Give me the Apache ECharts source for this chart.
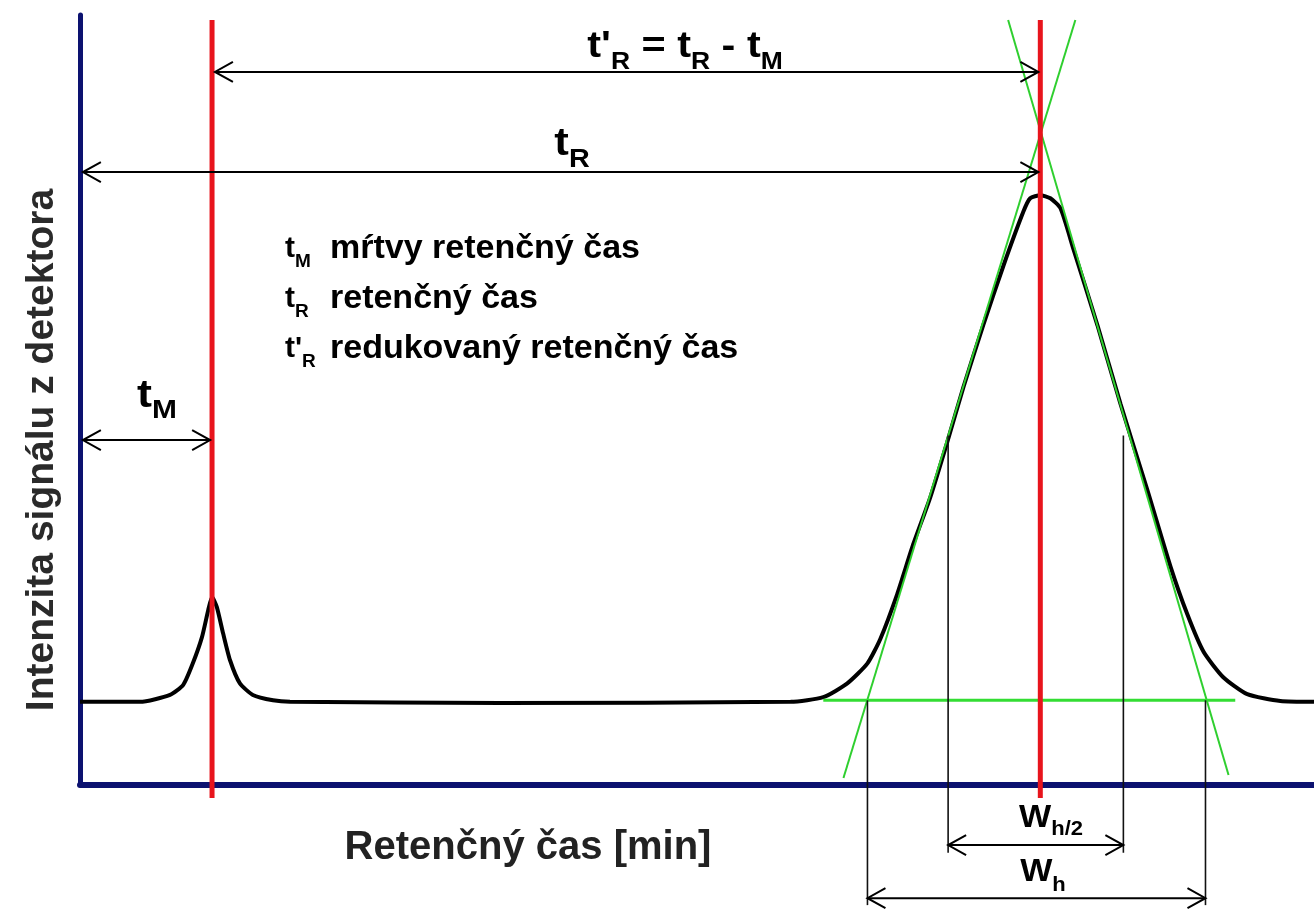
<!DOCTYPE html>
<html><head><meta charset="utf-8">
<script src="https://cdn.jsdelivr.net/npm/echarts/dist/echarts.min.js"></script>
<style>html,body{margin:0;padding:0;background:#fff}#c{width:1314px;height:911px}</style>
</head><body><div id="c"></div>
<script>
// --- data (x: retention time in min, y: detector signal, arbitrary units) ---
const timeMin = [0, 1.25, 1.875, 2.15, 2.35, 2.54, 2.67, 2.75, 2.85, 2.98, 3.125, 3.33, 3.6, 4.02, 4.375, 8.75, 14.8,
  15.48, 15.98, 16.4, 16.67, 17.02, 17.35, 17.71, 18.06, 18.4, 18.81, 19.23, 19.65, 19.79, 20.0, 20.21, 20.42, 20.69,
  21.19, 21.67, 22.23, 22.71, 23.06, 23.4, 23.81, 24.31, 25.0, 25.7];
const signal = [10.8, 10.8, 11.7, 13.0, 15.8, 19.2, 22.7, 24.4, 23.1, 19.7, 16.2, 13.2, 11.7, 11.0, 10.8, 10.65, 10.8,
  11.4, 13.2, 15.8, 19.0, 24.8, 31.2, 37.4, 44.5, 51.7, 59.7, 67.4, 74.5, 76.2, 76.6, 76.2, 74.9, 69.6,
  59.7, 49.5, 38.3, 28.4, 22.2, 17.3, 14.0, 11.8, 10.9, 10.8];
const tM = 2.75;            // dead retention time
const tR = 20.0;            // retention time
const tangentLeft = [[15.9, 0.9], [20.73, 99.35]];
const tangentRight = [[23.92, 1.3], [19.33, 99.35]];
const baseLevel = 11.0;
const baseLineRange = [15.48, 24.06];
const halfLevel = 45.4;
const wHalf = [18.08, 21.73];
const wBase = [16.4, 23.44];
const redLines = [[tM, 99.35, -1.7], [tR, 99.35, -1.7]];
const blackLines = [[wBase[0], baseLevel, -15.6], [wHalf[0], halfLevel, -8.8], [wHalf[1], halfLevel, -8.8], [wBase[1], baseLevel, -15.6]];
const arrows = [[tM + 0.06, tR - 0.04, 92.6], [0.06, tR - 0.04, 79.6], [0.06, tM - 0.04, 44.8],
  [wHalf[0], wHalf[1], -7.8], [wBase[0], wBase[1], -14.7]];
const legendSymbols = ["{m|t}{s|M}", "{m|t}{s|R}", "{m|t'}{s|R}"];
const legendTexts = ["mŕtvy retenčný čas", "retenčný čas", "redukovaný retenčný čas"];

const FF = '"Liberation Sans", Arial, sans-serif';
const curve = timeMin.map((t, i) => [t, signal[i]]);

function vRender(color, width) {
  return function (params, api) {
    const a = api.coord([api.value(0), api.value(1)]);
    const b = api.coord([api.value(0), api.value(2)]);
    return { type: 'line', shape: { x1: a[0], y1: a[1], x2: b[0], y2: b[1] }, style: { stroke: color, lineWidth: width } };
  };
}
function arrowRender(params, api) {
  const a = api.coord([api.value(0), api.value(2)]);
  const b = api.coord([api.value(1), api.value(2)]);
  const L = 18, H = 10;
  const st = { stroke: '#000', lineWidth: 2, fill: null };
  return { type: 'group', children: [
    { type: 'line', shape: { x1: a[0], y1: a[1], x2: b[0], y2: b[1] }, style: st },
    { type: 'polyline', shape: { points: [[a[0] + L, a[1] - H], [a[0], a[1]], [a[0] + L, a[1] + H]] }, style: st },
    { type: 'polyline', shape: { points: [[b[0] - L, b[1] - H], [b[0], b[1]], [b[0] - L, b[1] + H]] }, style: st }
  ] };
}

// text with subscripts: main font F, subscript font fs, subscript drop D, main baseline at "base"
function subText(x, base, text, F, fs, D, align, sx) {
  const lh = F + 4;
  const pb = Math.max(0, Math.round(D + 0.35 * F + 0.15 * fs - lh / 2));
  const y = base + pb / 2 - 0.35 * F;
  return { type: 'text', x: x, y: y, z: 50, scaleX: sx || 1, style: { text: text, align: align || 'center', verticalAlign: 'middle', rich: {
    m: { fontSize: F, fontWeight: 'bold', fontFamily: FF, color: '#000', lineHeight: lh, verticalAlign: 'bottom', padding: [0, 0, pb, 0] },
    s: { fontSize: fs, fontWeight: 'bold', fontFamily: FF, color: '#000', verticalAlign: 'bottom' }
  } } };
}
function plainText(x, base, text, F, sx, color, align) {
  return { type: 'text', x: x, y: base - 0.35 * F, z: 50, scaleX: sx || 1, style: { text: text, fontSize: F, fontWeight: 'bold', fontFamily: FF, fill: color || '#000', align: align || 'left', verticalAlign: 'middle' } };
}

const SX = 1.15;
const graphics = [
  subText(685, 62, "{m|t'}{s|R}{m| = t}{s|R}{m| - t}{s|M}", 36, 23, 13, 'center', SX),
  subText(572, 160, "{m|t}{s|R}", 38, 25, 13, 'center', SX),
  subText(157, 412, "{m|t}{s|M}", 39, 26, 12, 'center', SX),
  subText(1051, 830, "{m|W}{s|h/2}", 31, 20, 10, 'center', 1.1),
  subText(1043, 885, "{m|W}{s|h}", 31, 20, 11, 'center', 1.1),
  plainText(528, 862, 'Retenčný čas [min]', 40, 1, '#222', 'center'),
  { type: 'text', x: 42, y: 450, rotation: Math.PI / 2, z: 50, style: { text: 'Intenzita signálu z detektora', fontSize: 39, fontWeight: 'bold', fontFamily: FF, fill: '#2a2a2a', align: 'center', verticalAlign: 'middle' } }
];
legendSymbols.forEach((s, i) => graphics.push(subText(285, 261 + 50 * i, s, 30, 19, 11, 'left', 1)));
legendTexts.forEach((s, i) => graphics.push(plainText(330, 261 + 50 * i, s, 34, 1)));

const chart = echarts.init(document.getElementById('c'), null, { renderer: 'canvas' });
chart.setOption({
  animation: false,
  backgroundColor: '#fff',
  grid: { left: 80, right: 0, top: 15, bottom: 126 },
  xAxis: { type: 'value', min: 0, max: 25.7, axisLine: { onZero: false, lineStyle: { color: '#0c1270', width: 6 } },
    axisTick: { show: false }, axisLabel: { show: false }, splitLine: { show: false } },
  yAxis: { type: 'value', min: 0, max: 100, axisLine: { show: true, onZero: false, lineStyle: { color: '#0c1270', width: 5 } },
    axisTick: { show: false }, axisLabel: { show: false }, splitLine: { show: false } },
  series: [
    { type: 'line', data: curve, smooth: 0.2, showSymbol: false, z: 2,
      lineStyle: { color: '#000', width: 4 } },
    { type: 'line', data: tangentLeft, showSymbol: false, z: 3, clip: false, lineStyle: { color: '#2fcf2f', width: 2 } },
    { type: 'line', data: tangentRight, showSymbol: false, z: 3, clip: false, lineStyle: { color: '#2fcf2f', width: 2 } },
    { type: 'line', data: [[baseLineRange[0], baseLevel], [baseLineRange[1], baseLevel]], showSymbol: false, z: 3,
      lineStyle: { color: '#33dd33', width: 3 } },
    { type: 'custom', renderItem: vRender('#111', 1.6), data: blackLines, z: 4, clip: false, encode: { x: 0, y: [1, 2] } },
    { type: 'custom', renderItem: vRender('#e8141c', 5), data: redLines, z: 5, clip: false, encode: { x: 0, y: [1, 2] } },
    { type: 'custom', renderItem: arrowRender, data: arrows, z: 6, clip: false, encode: { x: [0, 1], y: 2 } }
  ],
  graphic: graphics
});
</script>
</body></html>
